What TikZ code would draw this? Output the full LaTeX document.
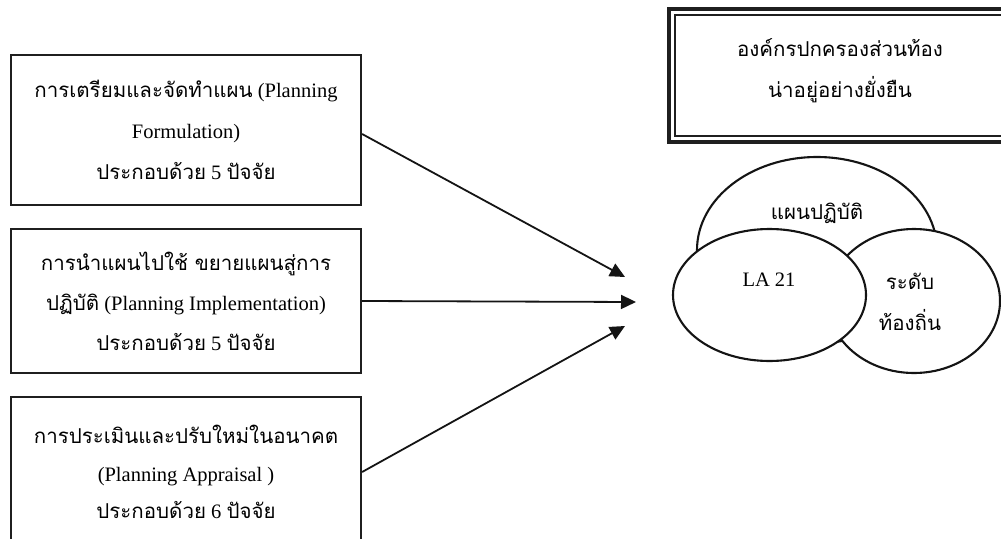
\documentclass[tikz,border=0pt]{standalone}
\usepackage{fontspec}
\setmainfont{Liberation Serif}
\newfontfamily\thaifont[Script=Thai]{Loma}
\usetikzlibrary{shapes.geometric,arrows.meta,calc}
\newcommand\tht[1]{{\thaifont #1}}

\tikzset{
  stagebox/.style={draw=black!88, line width=2.2pt, minimum width=350pt,
    minimum height=150pt, align=center, inner sep=0pt,
    font=\fontsize{20.5}{41}\selectfont},
  arr/.style={draw=black!92, line width=1.8pt,
    -{Triangle[length=15pt,width=14pt]}},
  bubble/.style={ellipse, draw=black!92, line width=2.1pt, fill=white,
    inner sep=0pt},
  lbl/.style={font=\fontsize{20.5}{41}\selectfont, align=center, inner sep=0pt},
}

\begin{document}
\begin{tikzpicture}[x=1pt, y=-1pt]
  \useasboundingbox (0,0) rectangle (1001,538);
  \clip (0,0) rectangle (1001,538);

  % three planning stages
  \node[stagebox] (s1) at (186,130)
    {\tht{การเตรียมและจัดทำแผน} (Planning\\Formulation)\\\tht{ประกอบด้วย} 5 \tht{ปัจจัย}};
  \node[stagebox, minimum height=144pt, font=\fontsize{20.5}{40}\selectfont] (s2) at (186,301)
    {\tht{การนำแผนไปใช้ ขยายแผนสู่การ}\\\tht{ปฏิบัติ} (Planning Implementation)\\\tht{ประกอบด้วย} 5 \tht{ปัจจัย}};
  \node[stagebox, font=\fontsize{20.5}{37.5}\selectfont] (s3) at (186,472)
    {\tht{การประเมินและปรับใหม่ในอนาคต}\\(Planning Appraisal )\\\tht{ประกอบด้วย} 6 \tht{ปัจจัย}};

  % arrow tips
  \coordinate (t1) at (625,277);
  \coordinate (t2) at (636,302);
  \coordinate (t3) at (625,326);
  \draw[arr] ([yshift=-4pt]s1.east) -- (t1);
  \draw[arr] (s2.east) -- (t2);
  \draw[arr] (s3.east) -- (t3);

  % goal box with thick-thin frame
  \node[draw=black!88, line width=2.2pt, minimum width=330pt, minimum height=121pt,
        inner sep=0pt] (goal) at (840,75.5) {};
  \draw[black!88, line width=3.4pt]
    ($(goal.north west)+(-5,-5)$) rectangle ($(goal.south east)+(5,5)$);
  \node[lbl] (goaltxt) at (840,71)
    {\tht{องค์กรปกครองส่วนท้อง}\\\tht{น่าอยู่อย่างยั่งยืน}};

  % overlapping ellipses
  \node[bubble, minimum width=240pt, minimum height=186pt] (plan) at (817,250) {};
  \node[bubble, minimum width=172pt, minimum height=144pt] (local) at (914,301) {};
  \node[bubble, minimum width=193pt, minimum height=132pt] (la) at (769.5,295) {};

  \node[lbl] (plantxt) at (817,213) {\tht{แผนปฏิบัติ}};
  \node[lbl] (latxt) at (769,280) {LA 21};
  \node[lbl] (localtxt) at (910,302) {\tht{ระดับ}\\\tht{ท้องถิ่น}};
\end{tikzpicture}
\end{document}
